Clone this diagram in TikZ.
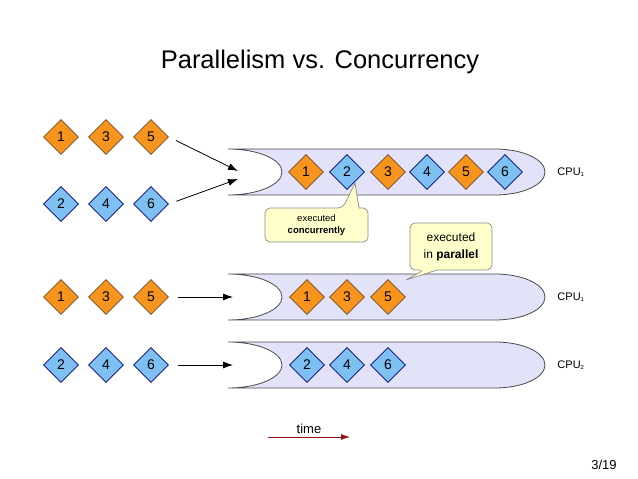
\documentclass[tikz,border=0pt]{standalone}
\usepackage{fontspec}
\setmainfont{Liberation Sans}
\usepackage{tikz}
\usetikzlibrary{shapes.geometric,arrows.meta}

\definecolor{taskorange}{RGB}{247,148,29}
\definecolor{taskblue}{RGB}{126,192,242}
\definecolor{pipefill}{RGB}{226,226,248}
\definecolor{notefill}{RGB}{255,255,204}
\definecolor{timered}{RGB}{150,20,20}

\tikzset{
  task/.style={diamond,minimum size=35pt,inner sep=0pt,line width=0.7pt,font=\fontsize{14}{14}\selectfont},
  otask/.style={task,draw=brown!60!black,fill=taskorange},
  btask/.style={task,draw=blue!45!black,fill=taskblue},
  pipe/.style={draw=black!70,fill=pipefill,line width=0.8pt},
  notebox/.style={draw=black!45,fill=notefill,line width=0.7pt},
  feed/.style={-{Latex[length=10pt,width=7pt]},line width=0.8pt},
  cpu/.style={font=\fontsize{11}{11}\selectfont},
}

\begin{document}
\begin{tikzpicture}[x=1pt,y=1pt]
      \fill[white] (0,0) rectangle (638,479);
      \useasboundingbox (0,0) rectangle (638,479);
      \node[font=\fontsize{25.5}{25.5}\selectfont] (title) at (320,417) {Parallelism vs. Concurrency};
      % the three pipes
      \foreach \yc in {307,182,114} {
        \draw[pipe] (228,\yc+23) -- (495,\yc+23) arc[start angle=90,end angle=-90,x radius=50,y radius=23]
          -- (228,\yc-23) arc[start angle=-90,end angle=90,x radius=54,y radius=23] -- cycle;
      }
      % tasks waiting
      \foreach \n/\x in {1/61,3/106,5/151} {\node[otask] (a\n) at (\x,342) {\n};}
      \foreach \n/\x in {2/61,4/106,6/151} {\node[btask] (a\n) at (\x,275) {\n};}
      \foreach \n/\x in {1/61,3/106,5/151} {\node[otask] (c\n) at (\x,182) {\n};}
      \foreach \n/\x in {2/61,4/106,6/151} {\node[btask] (c\n) at (\x,114) {\n};}
      % tasks running
      \foreach \n/\x/\s in {1/306/otask,2/347/btask,3/388/otask,4/427/btask,5/466/otask,6/505/btask} {\node[\s] (p\n) at (\x,307) {\n};}
      \foreach \n/\x in {1/307,3/347,5/388} {\node[otask] (q\n) at (\x,182) {\n};}
      \foreach \n/\x in {2/307,4/347,6/388} {\node[btask] (r\n) at (\x,114) {\n};}
      \node[cpu] (cpuA) at (571,307) {CPU\textsubscript{\fontsize{6}{6}\selectfont 1}};
      \node[cpu] (cpuB) at (571,182) {CPU\textsubscript{\fontsize{6}{6}\selectfont 1}};
      \node[cpu] (cpuC) at (571,114) {CPU\textsubscript{\fontsize{6}{6}\selectfont 2}};
      % arrows into the pipes
      \coordinate (inA) at (238,308);
      \coordinate (inB) at (238,300);
      \coordinate (inC) at (233,182);
      \coordinate (inD) at (233,114);
      \draw[feed,shorten <=8pt] (a5.east) -- (inA);
      \draw[feed,shorten <=8pt] (a6.east) -- (inB);
      \draw[feed,shorten <=9.5pt] (c5.east) -- (inC);
      \draw[feed,shorten <=9.5pt] (c6.east) -- (inD);
      % notes
      \draw[notebox] (316,237) [rounded corners=5pt] -| (265,271) -- (343,271) [sharp corners] -- (355,296)
        -- (359,271) [rounded corners=5pt] -| (368,237) -- cycle;
      \node[align=center,font=\fontsize{9.5}{12}\selectfont] (conc) at (316.5,254) {executed\\\textbf{concurrently}};
      \draw[notebox] (451,256) [rounded corners=5pt] -| (410,209) -- (424,209) [sharp corners] -- (406,199)
        -- (437,209) [rounded corners=5pt] -| (492,256) -- cycle;
      \node[align=center,font=\fontsize{12}{17}\selectfont] (para) at (451,232.5) {executed\\in \textbf{parallel}};
      % time axis
      \coordinate (t0) at (268,42);
      \coordinate (t1) at (350,42);
      \draw[timered,-{Latex[length=9pt,width=6pt]},line width=0.8pt] (t0) -- (t1) node[midway,above,black,font=\fontsize{13}{13}\selectfont] (tlbl) {time};
      \node[font=\fontsize{13}{13}\selectfont] (page) at (604,14) {3/19};
   \end{tikzpicture}
\end{document}
